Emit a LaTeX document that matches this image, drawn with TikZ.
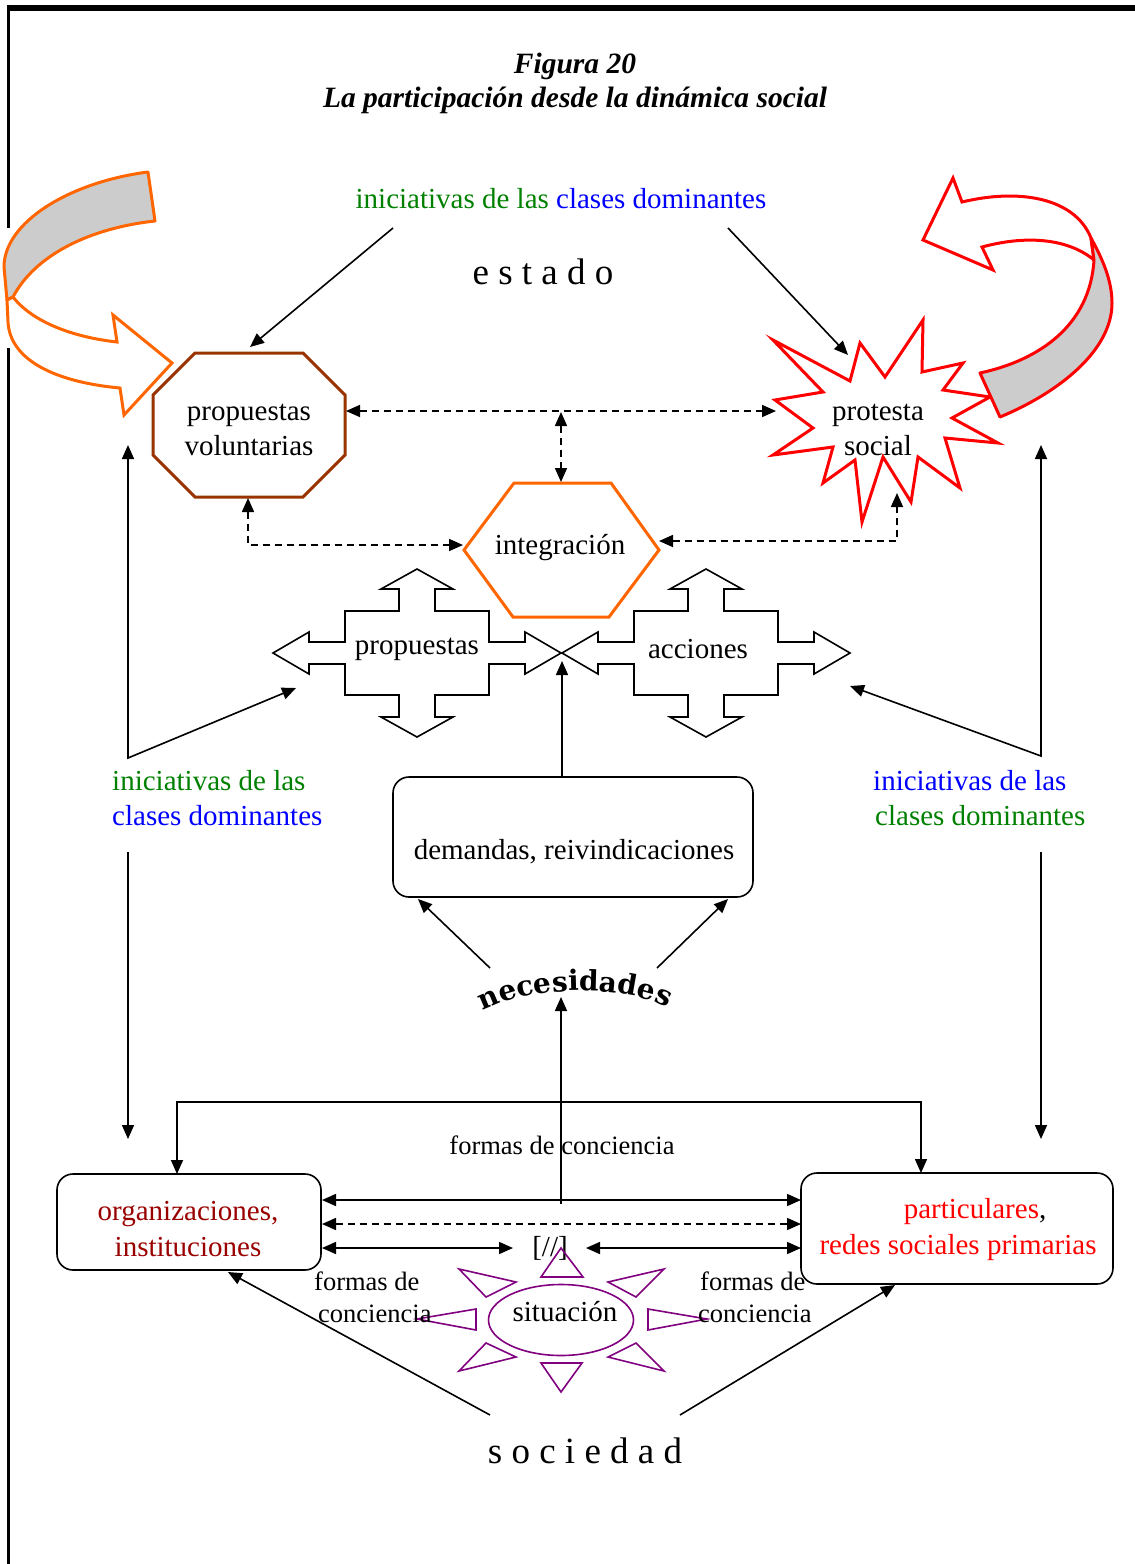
\documentclass[tikz,border=0pt]{standalone}
\usepackage{fontspec}
\setmainfont{Liberation Serif}
\newfontfamily\necfont{DejaVu Serif}
\usetikzlibrary{arrows.meta,decorations.text,shapes.geometric}
\definecolor{ogreen}{RGB}{0,128,0}
\definecolor{oblue}{RGB}{0,0,255}
\definecolor{orng}{RGB}{255,102,0}
\definecolor{brwn}{RGB}{153,51,0}
\definecolor{dred}{RGB}{153,0,0}
\definecolor{purp}{RGB}{128,0,128}
\definecolor{bandgray}{RGB}{204,204,204}
\begin{document}
\begin{tikzpicture}[x=1pt,y=-1pt,
  txt/.style={font=\fontsize{29}{35}\selectfont, inner sep=0pt, align=center, yshift=-2pt},
  boxtxt/.style={txt, font=\fontsize{29}{36}\selectfont},
  small/.style={txt, font=\fontsize{26.5}{32}\selectfont},
  wide/.style={font=\fontsize{37}{40}\selectfont, inner sep=0pt},
  arr/.style={line width=1.6pt, -{Triangle[length=14pt,width=12pt]}},
  darr/.style={line width=1.6pt, {Triangle[length=14pt,width=12pt]}-{Triangle[length=14pt,width=12pt]}},
  dashline/.style={dash pattern=on 7pt off 5pt},
  roundbox/.style={draw, line width=1.6pt, rounded corners=16pt, rectangle, inner sep=0pt},
  ray/.style={draw=purp, line width=1.6pt, line join=miter},
  quad/.pic={
    \draw[line width=1.6pt, fill=white]
      (0,-84) -- (36,-64) -- (18,-64) -- (18,-42) -- (72,-42) -- (72,-11)
      -- (108,-11) -- (108,-21) -- (144,0) -- (108,21) -- (108,11) -- (72,11)
      -- (72,42) -- (18,42) -- (18,64) -- (36,64) -- (0,84) -- (-36,64)
      -- (-18,64) -- (-18,42) -- (-72,42) -- (-72,11) -- (-108,11) -- (-108,21)
      -- (-144,0) -- (-108,-21) -- (-108,-11) -- (-72,-11) -- (-72,-42)
      -- (-18,-42) -- (-18,-64) -- (-36,-64) -- cycle;
  }
]
\useasboundingbox (0,0) rectangle (1135,1564);

% page frame
\draw[line width=6pt] (6.75,8) -- (1135,8);
\draw[line width=3.5pt] (8.5,8) -- (8.5,228);
\draw[line width=3.5pt] (8.5,348) -- (8.5,1564);

% title
\node[font=\fontsize{29.5}{34}\selectfont\bfseries\itshape, align=center, inner sep=0pt] (title) at (575,83)
  {Figura 20\\La participación desde la dinámica social};

% top: estado
\node[txt] (topinit) at (561,197) {{\color{ogreen}iniciativas de las} {\color{oblue}clases dominantes}};
\node[wide] (estado) at (543,272) {e s t a d o};

% propuestas voluntarias (octagon)
\draw[brwn, line width=3pt, fill=white] (195,353) -- (303,353) -- (345,395) -- (345,455)
  -- (303,497) -- (195,497) -- (153,455) -- (153,395) -- cycle;
\node[txt] (pv) at (249,428) {propuestas\\voluntarias};
\coordinate (pvT) at (250,347);
\coordinate (pvR) at (346,411);
\coordinate (pvB) at (248,498);

% protesta social (burst)
\draw[red, line width=3pt, fill=white, line join=miter] (773,340) -- (850,381) -- (860,343) -- (885,377)
  -- (923,320) -- (922,372) -- (963,363) -- (943,390) -- (990,397) -- (952,418)
  -- (998,443) -- (945,438) -- (960,488) -- (918,457) -- (911,502) -- (883,457)
  -- (862,522) -- (855,460) -- (823,483) -- (833,447) -- (773,455) -- (813,428)
  -- (775,400) -- (823,392) -- cycle;
\node[txt] (ps) at (878,428) {protesta\\social};
\coordinate (psL) at (776,411);
\coordinate (psB) at (897,493);
\coordinate (psNW) at (848,355);

% curved arrow, left (orange)
\draw[orng, line width=3pt, fill=bandgray, line join=round]
  (148,172) .. controls (70,182) and (4,222) .. (4,267) -- (7,300) -- (13,297)
  .. controls (35,255) and (90,228) .. (155,221) -- cycle;
\draw[orng, line width=3pt, fill=white, line join=miter]
  (13,297) .. controls (35,325) and (80,338) .. (117,342) -- (113,315) -- (172,363)
  -- (124,415) -- (120,388) .. controls (55,382) and (10,360) .. (8,322) -- (7,300) -- cycle;

% curved arrow, right (red)
\draw[red, line width=3pt, fill=white, line join=miter]
  (982,247) -- (993,270) -- (923,240) -- (953,178) -- (962,202)
  .. controls (1020,188) and (1075,198) .. (1091,238) -- (1094,260)
  .. controls (1070,240) and (1030,234) .. (982,247) -- cycle;
\draw[red, line width=3pt, fill=bandgray, line join=round]
  (1091,238) .. controls (1102,258) and (1112,280) .. (1112,303)
  .. controls (1112,350) and (1060,392) .. (1000,417) -- (980,373)
  .. controls (1040,360) and (1090,325) .. (1094,260) -- cycle;

% integracion (hexagon)
\draw[orng, line width=3pt, fill=white] (514,483) -- (611,483) -- (659,550) -- (609,617)
  -- (513,617) -- (464,550) -- cycle;
\node[txt] (integ) at (560,546) {integración};
\coordinate (inT) at (561,482);
\coordinate (inL) at (463,545);
\coordinate (inR) at (659,541);
\coordinate (midtop) at (561,412);

% top connectors
\coordinate (tl) at (393,228);
\coordinate (tr) at (728,228);
\draw[arr] (tl) -- (pvT);
\draw[arr] (tr) -- (psNW);

% dashed links
\draw[darr, dashline] (pvR) -- (psL);
\draw[darr, dashline] (midtop) -- (inT);
\draw[darr, dashline] (pvB) |- (inL);
\draw[darr, dashline] (inR) -| (psB);

% propuestas / acciones (four-way arrows)
\pic at (417,653) {quad};
\pic at (706,653) {quad};
\node[txt] (prop) at (417,647) {propuestas};
\node[txt] (acc) at (698,647) {acciones};
\coordinate (xpt) at (562,661);

% side initiatives
\node[txt, align=left, anchor=west] (linit) at (112,796)
  {{\color{ogreen}iniciativas de las}\\{\color{oblue}clases dominantes}};
\node[txt, align=left, anchor=west] (rinit) at (873,796)
  {{\color{oblue}iniciativas de las}\\\hspace*{2pt}{\color{ogreen}clases dominantes}};
\coordinate (lA) at (296,688);
\coordinate (lC) at (128,758);
\coordinate (lB) at (128,445);
\coordinate (rA) at (850,686);
\coordinate (rC) at (1041,756);
\coordinate (rB) at (1041,445);
\draw[darr, line join=miter] (lA) -- (lC) -- (lB);
\draw[darr, line join=miter] (rA) -- (rC) -- (rB);
\coordinate (ldA) at (128,852);
\coordinate (ldB) at (128,1139);
\coordinate (rdA) at (1041,852);
\coordinate (rdB) at (1041,1139);
\draw[arr] (ldA) -- (ldB);
\draw[arr] (rdA) -- (rdB);

% demandas
\node[roundbox, minimum width=360pt, minimum height=120pt] (dem) at (573,837) {};
\node[txt] (demtxt) at (574,850) {demandas, reivindicaciones};
\draw[arr] (dem.north -| xpt) -- (xpt);
\coordinate (demSW) at (418,899);
\coordinate (demSE) at (728,899);
\coordinate (necL) at (490,968);
\coordinate (necR) at (657,968);
\draw[arr] (necL) -- (demSW);
\draw[arr] (necR) -- (demSE);

% necesidades (arched word)
\path[decorate, decoration={text along path,
    text={|\necfont\bfseries\fontsize{28}{30}\selectfont|necesidades}, text align=center}]
  (479,1013) .. controls (527,985) and (623,983) .. (671,1009);

% lower boxes
\node[roundbox, minimum width=264pt, minimum height=96pt] (org) at (189,1222) {};
\node[boxtxt, text=dred] (orgtxt) at (188,1227) {organizaciones,\\instituciones};
\node[roundbox, minimum width=312pt, minimum height=111pt] (par) at (957,1228.5) {};
\node[boxtxt] (partxt) at (958,1228) {\hspace*{34pt}{\color{red}particulares},\\{\color{red}redes sociales primarias}};

% formas de conciencia (upper loop)
\coordinate (orgT) at (177,1174);
\coordinate (parT) at (921,1173);
\draw[darr, line join=miter] (orgT) -- ++(0,-72) -| (parT);
\node[small] (fdc) at (562,1143) {formas de conciencia};

% links between the boxes
\coordinate (o1) at (322,1200);
\coordinate (p1) at (801,1200);
\coordinate (o2) at (322,1224);
\coordinate (p2) at (801,1224);
\coordinate (o3) at (322,1248);
\coordinate (p3) at (801,1248);
\coordinate (sl) at (513,1248);
\coordinate (sr) at (586,1248);
\draw[darr] (o1) -- (p1);
\draw[darr, dashline] (o2) -- (p2);
\draw[darr] (o3) -- (sl);
\draw[darr] (sr) -- (p3);
\node[txt] (sep) at (550,1246) {[//]};
\coordinate (vb) at (561,1204);
\coordinate (vt) at (561,997);
\draw[arr] (vb) -- (vt);

% situacion (sun)
\node[draw=purp, line width=1.6pt, ellipse, minimum width=145pt, minimum height=71pt, inner sep=0pt] (sit) at (561,1320) {};
\node[txt] (sittxt) at (565,1310) {situación};
\draw[ray] (541,1277) -- (583,1277) -- (561,1248) -- cycle;
\draw[ray] (541,1363) -- (582,1363) -- (561,1392) -- cycle;
\draw[ray] (476,1309) -- (476,1330) -- (417,1319) -- cycle;
\draw[ray] (648,1309) -- (648,1330) -- (707,1319) -- cycle;
\draw[ray] (459,1269) -- (486,1297) -- (516,1282) -- cycle;
\draw[ray] (664,1269) -- (636,1297) -- (608,1282) -- cycle;
\draw[ray] (459,1371) -- (486,1343) -- (516,1357) -- cycle;
\draw[ray] (664,1371) -- (636,1343) -- (608,1357) -- cycle;

\node[small, align=left, anchor=west] (fl) at (314,1295) {formas de\\\hspace*{4pt}conciencia};
\node[small, align=left, anchor=west] (fr) at (698,1295) {\hspace*{2pt}formas de\\conciencia};

% sociedad
\coordinate (socL) at (490,1415);
\coordinate (socR) at (680,1415);
\coordinate (orgB) at (228,1272);
\coordinate (parB) at (895,1285);
\draw[arr] (socL) -- (orgB);
\draw[arr] (socR) -- (parB);
\node[wide] (soc) at (585,1451) {s o c i e d a d};
\end{tikzpicture}
\end{document}
